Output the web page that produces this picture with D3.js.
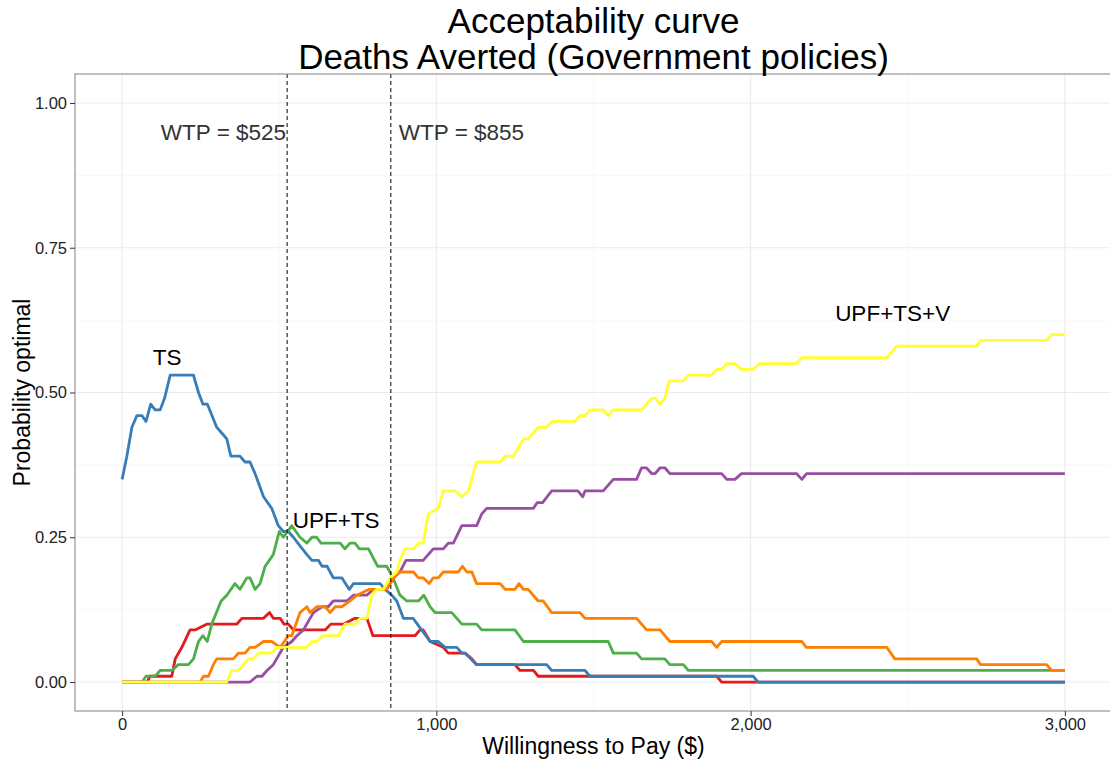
<!DOCTYPE html>
<html>
<head>
<meta charset="utf-8">
<script src="https://cdn.jsdelivr.net/npm/d3@7"></script>
<style>
  body { margin: 0; background: #fff; }
  text { font-family: "Liberation Sans", Arial, Helvetica, sans-serif; }
</style>
</head>
<body>
<svg id="chart" width="1110" height="761"></svg>
<script>
// breakpoints [wtp, probability]
const upfPoints = [[0,0],[79,0],[89,0.01],[147,0.01],[158,0.01],[169,0.04],[190,0.06],[216,0.09],[232,0.09],[269,0.10],[365,0.10],[381,0.11],[450,0.11],[469,0.12],[481,0.11],[503,0.11],[515,0.10],[529,0.10],[545,0.09],[646,0.09],[664,0.10],[704,0.10],[741,0.11],[779,0.11],[798,0.08],[932,0.08],[948,0.09],[958,0.09],[980,0.07],[1022,0.06],[1038,0.05],[1091,0.05],[1113,0.04],[1128,0.03],[1250,0.03],[1266,0.02],[1309,0.02],[1324,0.01],[1892,0.01],[1908,0],[3000,0]];

const tsPoints = [[0,0.35],[15,0.39],[31,0.44],[47,0.46],[63,0.46],[76,0.45],[91,0.48],[105,0.47],[121,0.47],[135,0.49],[153,0.53],[227,0.53],[243,0.50],[257,0.48],[271,0.48],[301,0.44],[317,0.43],[333,0.42],[346,0.39],[375,0.39],[391,0.38],[407,0.38],[423,0.36],[450,0.32],[476,0.30],[497,0.27],[513,0.26],[529,0.26],[545,0.25],[566,0.235],[588,0.22],[604,0.21],[625,0.21],[636,0.20],[652,0.20],[672,0.18],[699,0.18],[723,0.16],[736,0.17],[821,0.17],[837,0.16],[858,0.15],[874,0.14],[895,0.11],[926,0.11],[953,0.09],[980,0.07],[1006,0.07],[1028,0.06],[1065,0.06],[1081,0.05],[1091,0.05],[1128,0.03],[1351,0.03],[1367,0.02],[1473,0.02],[1489,0.01],[2008,0.01],[2024,0],[3000,0]];

const upfTsPoints = [[0,0],[63,0],[76,0.01],[105,0.01],[121,0.02],[158,0.02],[179,0.03],[211,0.03],[227,0.04],[243,0.07],[257,0.08],[271,0.07],[285,0.10],[315,0.14],[333,0.15],[359,0.17],[375,0.16],[397,0.18],[407,0.18],[423,0.16],[439,0.17],[455,0.20],[481,0.22],[500,0.26],[513,0.25],[540,0.27],[566,0.25],[588,0.24],[604,0.25],[619,0.25],[633,0.24],[694,0.24],[709,0.23],[725,0.24],[741,0.24],[755,0.23],[784,0.23],[813,0.20],[842,0.20],[862,0.18],[884,0.15],[906,0.14],[943,0.14],[960,0.15],[980,0.13],[996,0.12],[1049,0.12],[1081,0.10],[1128,0.10],[1144,0.09],[1250,0.09],[1277,0.07],[1547,0.07],[1563,0.05],[1637,0.05],[1653,0.04],[1727,0.04],[1743,0.03],[1786,0.03],[1802,0.02],[3000,0.02]];

const upfVPoints = [[0,0],[407,0],[429,0.01],[445,0.01],[461,0.02],[481,0.03],[513,0.06],[540,0.07],[556,0.08],[577,0.09],[598,0.11],[609,0.12],[636,0.13],[656,0.13],[672,0.14],[715,0.14],[736,0.15],[779,0.15],[798,0.16],[842,0.16],[864,0.18],[884,0.19],[903,0.21],[958,0.21],[990,0.23],[1022,0.23],[1038,0.24],[1054,0.24],[1081,0.27],[1128,0.27],[1144,0.29],[1160,0.30],[1309,0.30],[1321,0.31],[1338,0.31],[1367,0.33],[1450,0.33],[1466,0.32],[1473,0.33],[1531,0.33],[1563,0.35],[1637,0.35],[1653,0.37],[1668,0.37],[1685,0.36],[1696,0.36],[1712,0.37],[1727,0.37],[1743,0.36],[1908,0.36],[1924,0.35],[1950,0.35],[1971,0.36],[2146,0.36],[2163,0.35],[2178,0.36],[3000,0.36]];

const tsVPoints = [[0,0],[248,0],[259,0.01],[275,0.01],[290,0.03],[301,0.04],[354,0.04],[370,0.05],[391,0.05],[407,0.06],[423,0.06],[450,0.07],[476,0.07],[503,0.06],[529,0.08],[540,0.08],[566,0.12],[588,0.13],[598,0.12],[619,0.13],[646,0.13],[662,0.12],[678,0.13],[699,0.13],[725,0.14],[747,0.15],[785,0.16],[842,0.16],[864,0.18],[880,0.19],[927,0.19],[943,0.18],[958,0.18],[977,0.17],[990,0.18],[1006,0.18],[1022,0.19],[1070,0.19],[1083,0.20],[1097,0.19],[1113,0.19],[1128,0.17],[1203,0.17],[1219,0.16],[1250,0.16],[1263,0.17],[1277,0.16],[1292,0.16],[1324,0.14],[1340,0.14],[1367,0.12],[1457,0.12],[1473,0.11],[1637,0.11],[1669,0.09],[1712,0.09],[1743,0.07],[1876,0.07],[1892,0.06],[1908,0.07],[2163,0.07],[2177,0.06],[2433,0.06],[2459,0.04],[2719,0.04],[2732,0.03],[2942,0.03],[2958,0.02],[3000,0.02]];

const upfTsVPoints = [[0,0],[333,0],[349,0.02],[370,0.02],[386,0.03],[402,0.04],[418,0.04],[434,0.05],[476,0.05],[492,0.06],[588,0.06],[604,0.07],[619,0.07],[640,0.08],[688,0.08],[709,0.10],[741,0.10],[757,0.11],[779,0.11],[794,0.15],[810,0.16],[831,0.16],[852,0.18],[874,0.19],[884,0.21],[900,0.23],[927,0.23],[943,0.24],[958,0.24],[974,0.29],[1006,0.30],[1022,0.33],[1059,0.33],[1081,0.32],[1102,0.33],[1128,0.38],[1203,0.38],[1219,0.39],[1245,0.39],[1277,0.42],[1292,0.42],[1324,0.44],[1351,0.44],[1367,0.45],[1441,0.45],[1457,0.46],[1473,0.46],[1489,0.47],[1531,0.47],[1547,0.46],[1563,0.47],[1653,0.47],[1685,0.49],[1696,0.49],[1712,0.48],[1727,0.49],[1741,0.52],[1786,0.52],[1802,0.53],[1876,0.53],[1892,0.54],[1908,0.54],[1924,0.55],[1950,0.55],[1971,0.54],[2008,0.54],[2029,0.55],[2146,0.55],[2163,0.56],[2433,0.56],[2465,0.58],[2719,0.58],[2732,0.59],[2942,0.59],[2958,0.60],[3000,0.60]];

// drawn in this order (Set1)
const seriesNames = ['UPF', 'TS', 'UPF+TS', 'UPF+V', 'TS+V', 'UPF+TS+V'];
const seriesPoints = [upfPoints, tsPoints, upfTsPoints, upfVPoints, tsVPoints, upfTsVPoints];
const seriesColors = ['#E41A1C', '#377EB8', '#4DAF4A', '#984EA3', '#FF7F00', '#FFFF33'];

const xTicks = [0, 1000, 2000, 3000];
const xMinorTicks = [500, 1500, 2500];
const yTicks = [0, 0.25, 0.5, 0.75, 1];
const yMinorTicks = [0.125, 0.375, 0.625, 0.875];

const wtpValues = [525, 855];
const wtpLabels = ['WTP = $525', 'WTP = $855'];

const curveLabels = ['TS', 'UPF+TS', 'UPF+TS+V'];
const curveLabelX = [143, 681, 2452];
const curveLabelY = [0.561, 0.279, 0.637];

const titleLines = ['Acceptability curve', 'Deaths Averted (Government policies)'];

const width = 1110, height = 761;
const panel = { left: 75, right: 1112, top: 74, bottom: 711 };

const svg = d3.select('#chart');

const x = d3.scaleLinear().domain([-150, 3150]).range([panel.left, panel.right]);
const y = d3.scaleLinear().domain([-0.05, 1.05]).range([panel.bottom, panel.top]);

svg.append('rect')
  .attr('width', width)
  .attr('height', height)
  .attr('fill', '#fff');

svg.append('defs').append('clipPath')
  .attr('id', 'panel-clip')
  .append('rect')
  .attr('x', panel.left)
  .attr('y', panel.top)
  .attr('width', panel.right - panel.left)
  .attr('height', panel.bottom - panel.top);

const grid = svg.append('g');

// minor grid
grid.selectAll('.xminor').data(xMinorTicks).enter().append('line')
  .attr('x1', d => x(d)).attr('x2', d => x(d))
  .attr('y1', panel.top).attr('y2', panel.bottom)
  .attr('stroke', '#f4f4f4').attr('stroke-width', 0.6);
grid.selectAll('.yminor').data(yMinorTicks).enter().append('line')
  .attr('x1', panel.left).attr('x2', panel.right)
  .attr('y1', d => y(d)).attr('y2', d => y(d))
  .attr('stroke', '#f4f4f4').attr('stroke-width', 0.6);

// major grid
grid.selectAll('.xmajor').data(xTicks).enter().append('line')
  .attr('x1', d => x(d)).attr('x2', d => x(d))
  .attr('y1', panel.top).attr('y2', panel.bottom)
  .attr('stroke', '#ebebeb').attr('stroke-width', 1.1);
grid.selectAll('.ymajor').data(yTicks).enter().append('line')
  .attr('x1', panel.left).attr('x2', panel.right)
  .attr('y1', d => y(d)).attr('y2', d => y(d))
  .attr('stroke', '#ebebeb').attr('stroke-width', 1.1);

// curves
const line = d3.line()
  .x(d => x(d[0]))
  .y(d => y(d[1]));

svg.append('g')
  .attr('clip-path', 'url(#panel-clip)')
  .selectAll('path')
  .data(seriesPoints)
  .enter()
  .append('path')
  .attr('d', d => line(d))
  .attr('fill', 'none')
  .attr('stroke', (d, i) => seriesColors[i])
  .attr('stroke-width', 2.8)
  .attr('stroke-linejoin', 'round');

// WTP thresholds
svg.selectAll('.wtp').data(wtpValues).enter().append('line')
  .attr('x1', d => x(d)).attr('x2', d => x(d))
  .attr('y1', panel.top).attr('y2', panel.bottom)
  .attr('stroke', '#000')
  .attr('stroke-width', 1)
  .attr('stroke-dasharray', '4,3');

svg.selectAll('.wtplabel').data(wtpValues).enter().append('text')
  .attr('x', (d, i) => i === 0 ? x(d) - 1 : x(d) + 8)
  .attr('y', y(0.95))
  .attr('dy', '0.35em')
  .attr('text-anchor', (d, i) => i === 0 ? 'end' : 'start')
  .attr('font-size', 22.5)
  .attr('fill', '#333')
  .text((d, i) => wtpLabels[i]);

// curve labels
svg.selectAll('.curvelabel').data(curveLabels).enter().append('text')
  .attr('x', (d, i) => x(curveLabelX[i]))
  .attr('y', (d, i) => y(curveLabelY[i]))
  .attr('dy', '0.35em')
  .attr('text-anchor', 'middle')
  .attr('font-size', 22.5)
  .attr('fill', '#000')
  .text(d => d);

// panel border
svg.append('rect')
  .attr('x', panel.left)
  .attr('y', panel.top)
  .attr('width', panel.right - panel.left)
  .attr('height', panel.bottom - panel.top)
  .attr('fill', 'none')
  .attr('stroke', '#8c8c8c')
  .attr('stroke-width', 1.1);

// axes
const xAxis = d3.axisBottom(x)
  .tickValues(xTicks)
  .tickFormat(d3.format(','))
  .tickSize(5)
  .tickPadding(2);

const gx = svg.append('g')
  .attr('transform', `translate(0,${panel.bottom})`)
  .call(xAxis);
gx.select('.domain').remove();
gx.selectAll('line').attr('stroke', '#333');
gx.selectAll('text').attr('font-size', 16.5).attr('fill', '#222')
  .style('font-family', '"Liberation Sans", Arial, sans-serif');

const yAxis = d3.axisLeft(y)
  .tickValues(yTicks)
  .tickFormat(d3.format('.2f'))
  .tickSize(5)
  .tickPadding(3);

const gy = svg.append('g')
  .attr('transform', `translate(${panel.left},0)`)
  .call(yAxis);
gy.select('.domain').remove();
gy.selectAll('line').attr('stroke', '#333');
gy.selectAll('text').attr('font-size', 16.5).attr('fill', '#222')
  .style('font-family', '"Liberation Sans", Arial, sans-serif');

// axis titles
svg.append('text')
  .attr('x', (panel.left + panel.right) / 2)
  .attr('y', 754)
  .attr('text-anchor', 'middle')
  .attr('font-size', 23)
  .attr('fill', '#000')
  .text('Willingness to Pay ($)');

svg.append('text')
  .attr('transform', `translate(30,${(panel.top + panel.bottom) / 2}) rotate(-90)`)
  .attr('text-anchor', 'middle')
  .attr('font-size', 23)
  .attr('fill', '#000')
  .text('Probability optimal');

// title
svg.selectAll('.title').data(titleLines).enter().append('text')
  .attr('x', (panel.left + panel.right) / 2)
  .attr('y', (d, i) => 33 + i * 36)
  .attr('text-anchor', 'middle')
  .attr('font-size', 35)
  .attr('fill', '#000')
  .text(d => d);
</script>
</body>
</html>
